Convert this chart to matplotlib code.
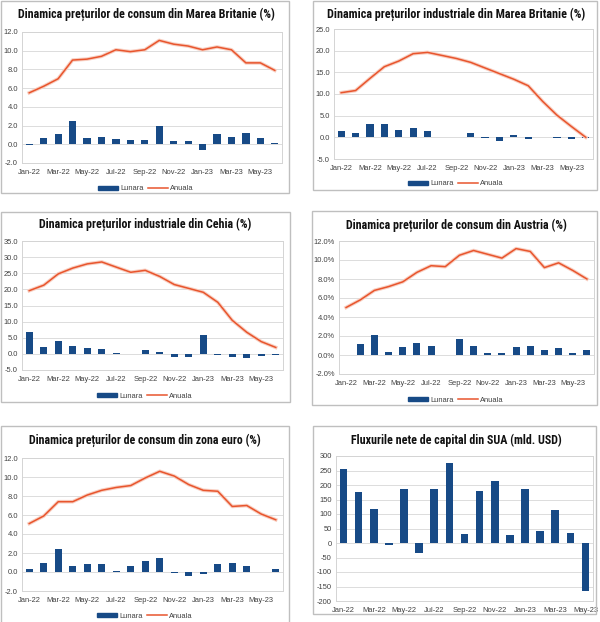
import matplotlib
matplotlib.use("Agg")
import matplotlib.pyplot as plt
import matplotlib.patches as mpatches
import matplotlib.lines as mlines
import matplotlib.patheffects as pe
from matplotlib.ticker import FuncFormatter, MultipleLocator

months18 = ["Jan-22", "Feb-22", "Mar-22", "Apr-22", "May-22", "Jun-22", "Jul-22", "Aug-22",
            "Sep-22", "Oct-22", "Nov-22", "Dec-22", "Jan-23", "Feb-23", "Mar-23", "Apr-23",
            "May-23", "Jun-23"]
months17 = months18[:17]

titles = [
    "Dinamica prețurilor de consum din Marea Britanie (%)",
    "Dinamica prețurilor industriale din Marea Britanie (%)",
    "Dinamica prețurilor industriale din Cehia (%)",
    "Dinamica prețurilor de consum din Austria (%)",
    "Dinamica prețurilor de consum din zona euro (%)",
    "Fluxurile nete de capital din SUA (mld. USD)",
]

uk_cpi_lunara = [-0.1, 0.7, 1.1, 2.5, 0.7, 0.8, 0.6, 0.5, 0.5, 2.0, 0.4, 0.4, -0.6, 1.1, 0.8, 1.2, 0.7, 0.1]
uk_cpi_anuala = [5.5, 6.2, 7.0, 9.0, 9.1, 9.4, 10.1, 9.9, 10.1, 11.1, 10.7, 10.5, 10.1, 10.4, 10.1, 8.7, 8.7, 7.9]

uk_ppi_lunara = [1.5, 1.0, 3.1, 3.0, 1.8, 2.2, 1.4, 0.0, 0.0, 1.0, -0.1, -0.8, 0.5, -0.3, 0.0, -0.1, -0.4, -0.2]
uk_ppi_anuala = [10.3, 10.8, 13.6, 16.3, 17.6, 19.3, 19.6, 18.9, 18.2, 17.3, 16.0, 14.7, 13.4, 11.9, 8.3, 5.1, 2.5, 0.0]

cz_ppi_lunara = [6.8, 2.2, 4.1, 2.3, 1.8, 1.5, 0.2, -0.1, 1.1, 0.5, -1.0, -1.0, 5.8, -0.3, -0.9, -1.2, -0.8, -0.3]
cz_ppi_anuala = [19.6, 21.3, 24.8, 26.6, 27.9, 28.5, 26.9, 25.3, 25.9, 24.0, 21.5, 20.3, 19.1, 16.0, 10.4, 6.7, 3.8, 2.0]

at_cpi_lunara = [0.05, 1.2, 2.1, 0.3, 0.8, 1.3, 1.0, 0.0, 1.7, 1.0, 0.2, 0.2, 0.8, 0.9, 0.5, 0.7, 0.2, 0.5]
at_cpi_anuala = [5.0, 5.8, 6.8, 7.2, 7.7, 8.7, 9.4, 9.3, 10.5, 11.0, 10.6, 10.2, 11.2, 10.9, 9.2, 9.7, 8.9, 8.0]

ez_cpi_lunara = [0.3, 0.9, 2.4, 0.6, 0.8, 0.8, 0.1, 0.6, 1.2, 1.5, -0.1, -0.4, -0.2, 0.8, 0.9, 0.6, 0.0, 0.3]
ez_cpi_anuala = [5.1, 5.9, 7.4, 7.4, 8.1, 8.6, 8.9, 9.1, 9.9, 10.6, 10.1, 9.2, 8.6, 8.5, 6.9, 7.0, 6.1, 5.5]

us_flows = [255, 175, 118, -8, 187, -33, 185, 276, 31, 178, 215, 29, 185, 41, 114, 35, -167]

BAR = "#174A86"
LINE = "#E8552D"
HALO = "#F8CFC2"
GRID = "#DCDCDC"
TXT = "#404040"
W, H = 600, 622

plt.rcParams["font.family"] = ["Liberation Sans", "DejaVu Sans"]

fig = plt.figure(figsize=(W / 100, H / 100), dpi=100)
fig.patch.set_facecolor("white")
renderer = fig.canvas.get_renderer()

TFAM = ["DejaVu Sans Condensed", "Liberation Sans Narrow", "Roboto Condensed",
        "Noto Sans Condensed", "Open Sans Condensed", "Liberation Sans", "DejaVu Sans"]
TS = 5.4


def add_ax(l, t, r, b):
    return fig.add_axes([l / W, 1 - b / H, (r - l) / W, (b - t) / H])


def border(l, t, r, b):
    fig.add_artist(mpatches.Rectangle((l / W, 1 - b / H), (r - l) / W, (b - t) / H,
                                      transform=fig.transFigure, fill=False,
                                      edgecolor="#BFBFBF", lw=1.0))


def title(x, y, s, target_w):
    t = fig.text(x / W, 1 - y / H, s, ha="center", va="center", family=TFAM,
                 weight="bold", stretch="condensed", size=10, color="#111111")
    w = t.get_window_extent(renderer).width
    t.set_fontsize(min(10.5, 10 * target_w / w))


def style(ax, ylo, yhi, step, fmt, labels, n):
    ax.set_ylim(ylo, yhi)
    ax.set_xlim(-0.5, n - 0.5)
    ax.yaxis.set_major_locator(MultipleLocator(step))
    ax.yaxis.set_major_formatter(FuncFormatter(fmt))
    ax.set_xticks(range(0, n, 2))
    ax.set_xticklabels([labels[i] for i in range(0, n, 2)])
    ax.tick_params(axis="y", length=0, labelsize=TS, labelcolor=TXT, pad=3)
    ax.tick_params(axis="x", length=0, labelsize=TS, labelcolor=TXT, pad=4)
    ax.grid(axis="y", color=GRID, lw=0.7)
    ax.set_axisbelow(True)
    for s in ax.spines.values():
        s.set_color("#D4D4D4")
        s.set_linewidth(0.7)


def legend(x, y):
    h1 = mpatches.Patch(color=BAR, label="Lunara")
    h2 = mlines.Line2D([], [], color=LINE, lw=1.1, label="Anuala")
    fig.legend(handles=[h1, h2], loc="center", bbox_to_anchor=(x / W, 1 - y / H),
               ncol=2, frameon=False, fontsize=TS, handlelength=2.6, handleheight=0.5,
               handletextpad=0.3, columnspacing=0.6, labelcolor=TXT)


def combo(box, lun, anu, ylo, yhi, step, fmt):
    ax = add_ax(*box)
    x = list(range(len(lun)))
    ax.bar(x, lun, width=0.5, color=BAR, zorder=2)
    ax.plot(x, anu, color=LINE, lw=1.1, zorder=3,
            path_effects=[pe.Stroke(linewidth=2.6, foreground=HALO), pe.Normal()])
    style(ax, ylo, yhi, step, fmt, months18, len(lun))
    return ax


f1 = lambda v, p: f"{v:.1f}"
fpct = lambda v, p: f"{v:.1f}%"
fint = lambda v, p: f"{v:.0f}"

# Panel 1
border(1, 1, 289, 193)
title(146, 14, titles[0], 258)
combo((22, 32, 282, 163), uk_cpi_lunara, uk_cpi_anuala, -2, 12, 2, f1)
legend(146, 189)

# Panel 2
border(313, 1, 597, 190)
title(456, 14, titles[1], 258)
combo((334, 29, 593, 159), uk_ppi_lunara, uk_ppi_anuala, -5, 25, 5, f1)
legend(456, 184)

# Panel 3
border(1, 212, 290, 402)
title(145, 224, titles[2], 213)
combo((22, 241, 283, 370), cz_ppi_lunara, cz_ppi_anuala, -5, 35, 5, f1)
legend(145, 396)

# Panel 4
border(312, 211, 597, 405)
title(456, 225, titles[3], 221)
combo((339, 241, 594, 374), at_cpi_lunara, at_cpi_anuala, -2, 12, 2, fpct)
legend(456, 400)

# Panel 5
border(1, 426, 289, 623)
title(145, 440, titles[4], 230)
combo((22, 458, 283, 591), ez_cpi_lunara, ez_cpi_anuala, -2, 12, 2, f1)
legend(145, 616)

# Panel 6
border(313, 426, 596, 614)
title(456, 440, titles[5], 211)
ax6 = add_ax(336, 456, 593, 601)
x6 = list(range(len(us_flows)))
ax6.bar(x6, us_flows, width=0.5, color=BAR, zorder=2)
style(ax6, -200, 300, 50, fint, months17, len(us_flows))

fig.savefig("out.png", dpi=100, facecolor="white")
